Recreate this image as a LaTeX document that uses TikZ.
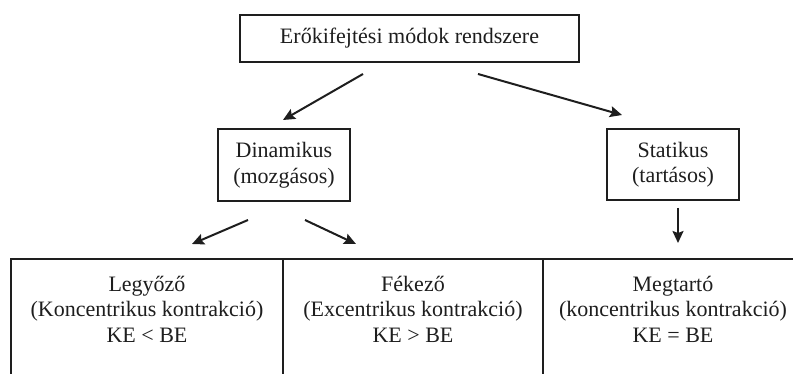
\documentclass[tikz,border=0pt]{standalone}
\usepackage{fontspec}
\setmainfont{Liberation Serif}
\usetikzlibrary{arrows.meta}
\definecolor{ink}{HTML}{1E1E1E}
\tikzset{
  box/.style={draw=ink, line width=2pt, inner sep=0pt, align=center,
              text=ink, font=\fontsize{22}{25.5}\selectfont},
  cell/.style={draw=ink, line width=2.2pt, inner sep=0pt},
  celltext/.style={anchor=north, inner sep=0pt, align=center, text=ink,
              font=\fontsize{22}{25.5}\selectfont},
  link/.style={draw=ink, line width=2pt,
              -{Stealth[length=12pt,width=11pt,inset=2pt]}}
}
\begin{document}
\begin{tikzpicture}[x=1pt,y=-1pt]
  \useasboundingbox (0,0) rectangle (793,374);
  \fill[white] (0,0) rectangle (793,374);
  \clip (0,0) rectangle (793,374);

  % hierarchy boxes
  \node[box, minimum width=339pt, minimum height=47pt] (top) at (409.5,38.5)
    {Erőkifejtési módok rendszere};
  \node[box, minimum width=132pt, minimum height=72pt] (din) at (284,165)
    {Dinamikus\\(mozgásos)};
  \node[box, minimum width=132pt, minimum height=71pt] (stat) at (673,164.5)
    {Statikus\\(tartásos)};

  % bottom row of cells (runs past the right and bottom edges)
  \node[cell, minimum width=272pt, minimum height=160pt, anchor=north] (c1) at (147,258) {};
  \node[cell, minimum width=260pt, minimum height=160pt, anchor=north] (c2) at (413,258) {};
  \node[cell, minimum width=260pt, minimum height=160pt, anchor=north] (c3) at (673,258) {};

  \node[celltext] (t1) at ([yshift=-18pt]c1.north)
    {Legyőző\\(Koncentrikus kontrakció)\\KE < BE};
  \node[celltext] (t2) at ([yshift=-18pt]c2.north)
    {Fékező\\(Excentrikus kontrakció)\\KE > BE};
  \node[celltext] (t3) at ([yshift=-18pt]c3.north)
    {Megtartó\\(koncentrikus kontrakció)\\KE = BE};

  % connectors
  \draw[link] ([shift={(-46.5,11)}]top.south) -- ([shift={(-1,-8)}]din.north);
  \draw[link] ([shift={(68.5,11)}]top.south) -- ([shift={(-51,-13)}]stat.north);
  \draw[link] ([shift={(-36,18)}]din.south) -- ([shift={(45,-14)}]c1.north);
  \draw[link] ([shift={(21,18)}]din.south) -- ([shift={(-57,-14)}]c2.north);
  \draw[link] ([shift={(5,7)}]stat.south) -- ([shift={(5,-15)}]c3.north);
\end{tikzpicture}
\end{document}
